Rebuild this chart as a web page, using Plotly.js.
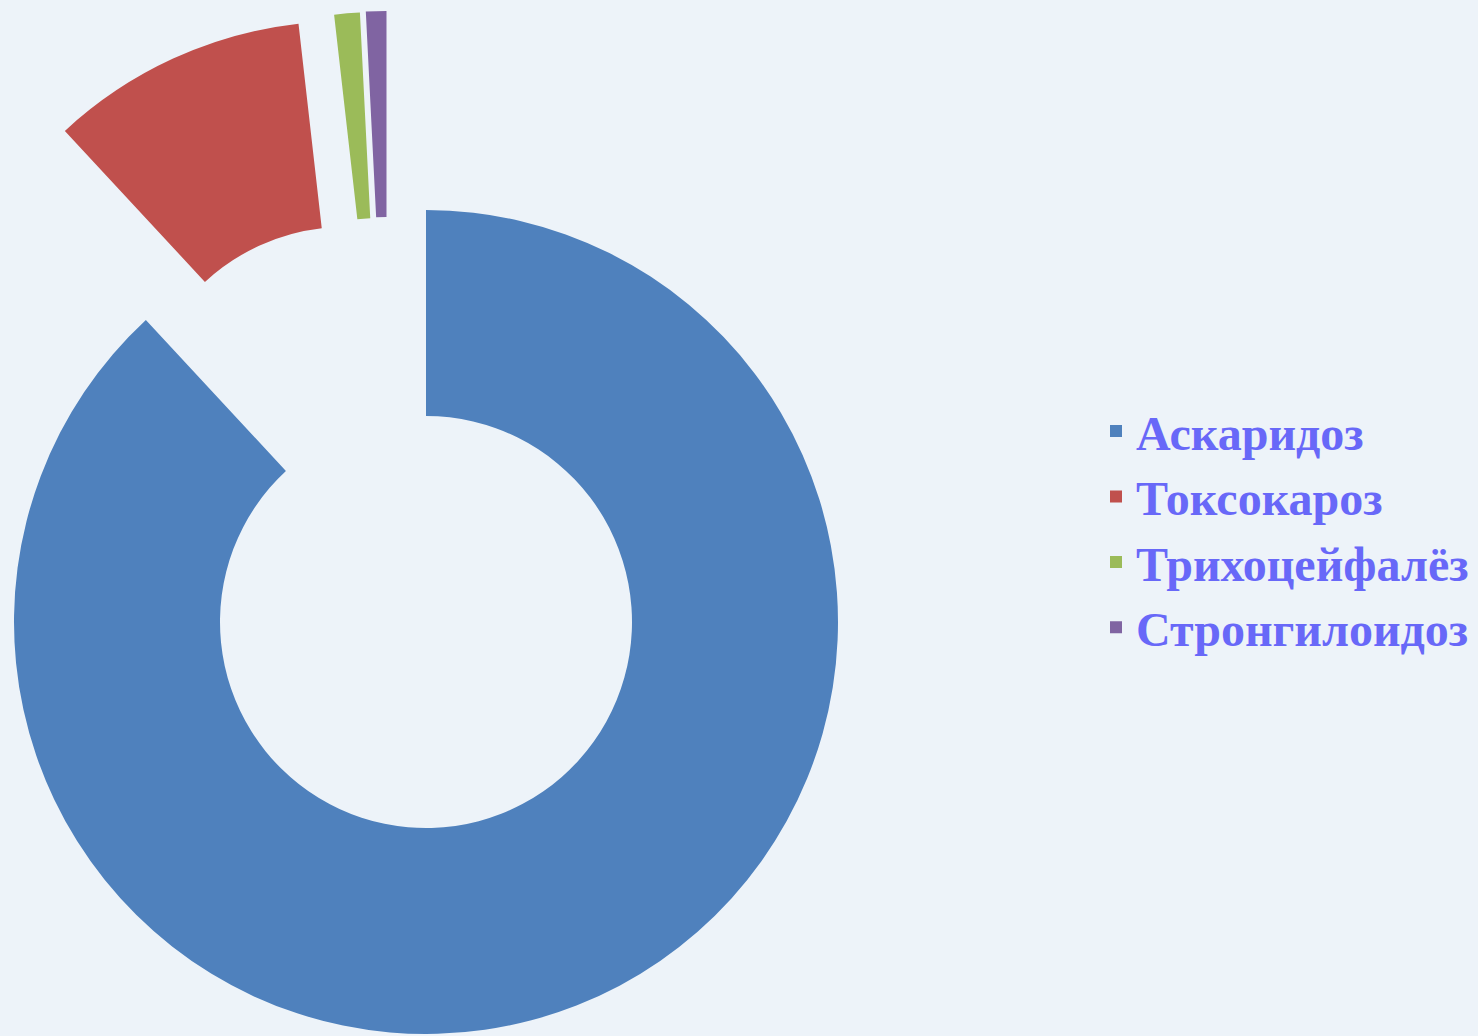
<!DOCTYPE html>
<html>
<head>
<meta charset="utf-8">
<script src="https://cdn.plot.ly/plotly-3.0.1.min.js"></script>
<style>
  html, body { margin: 0; padding: 0; background: #edf3f9; overflow: hidden; width: 1478px; height: 1036px; }
  #chart { position: absolute; left: -100px; top: 0; width: 1578px; height: 1036px; }
</style>
</head>
<body>
<div id="chart"></div>
<script>
// ---- data ----
const labels = ["Аскаридоз", "Токсокароз", "Трихоцейфалёз", "Стронгилоидоз"];
const values = [88.1, 10.1, 1.0, 0.8];
const colors = ["#4f81bd", "#c0504d", "#9bbb59", "#8064a2"];

// ---- layout helpers (style / geometry, not data) ----
const W = 1578, H = 1036, OFFSET = 100;   // div is shifted 100px left of the window
const R = 412;                             // outer radius in px
// exploded centre of each slice (window px)
const centers = [[426, 622], [345, 433], [380.6, 424], [386.5, 423]];

function domainFor(cx, cy) {
  const x = cx + OFFSET, yb = H - cy;
  return { x: [(x - R) / W, (x + R) / W], y: [(yb - R) / H, (yb + R) / H] };
}

const traces = [];
// legend-only copy, placed off-screen
traces.push({
  type: "pie", labels: labels, values: values, sort: false, direction: "clockwise",
  marker: { colors: colors }, textinfo: "none", hoverinfo: "skip",
  domain: { x: [0, 0.015], y: [0, 0.015] }, showlegend: true, hole: 0.5
});
// one drawn copy per slice, each centred on its exploded position
labels.forEach((lab, i) => {
  const c = colors.map((col, j) => (j === i ? col : "rgba(0,0,0,0)"));
  traces.push({
    type: "pie", labels: labels, values: values, sort: false, direction: "clockwise",
    rotation: 0, hole: 0.5, marker: { colors: c, line: { width: 0 } },
    textinfo: "none", hoverinfo: "label+percent", showlegend: false,
    domain: domainFor(centers[i][0], centers[i][1])
  });
});

const layout = {
  width: W, height: H,
  margin: { l: 0, r: 0, t: 0, b: 0, pad: 0 },
  paper_bgcolor: "#edf3f9",
  plot_bgcolor: "#edf3f9",
  showlegend: true,
  legend: {
    x: (1096 + OFFSET) / W, xanchor: "left",
    y: 0.489, yanchor: "middle",
    bgcolor: "rgba(0,0,0,0)",
    font: { family: "Liberation Serif, 'Times New Roman', serif", size: 48, color: "#6868f8", weight: "bold" },
    traceorder: "normal"
  }
};

Plotly.newPlot("chart", traces, layout, { staticPlot: true, displayModeBar: false });
</script>
</body>
</html>
